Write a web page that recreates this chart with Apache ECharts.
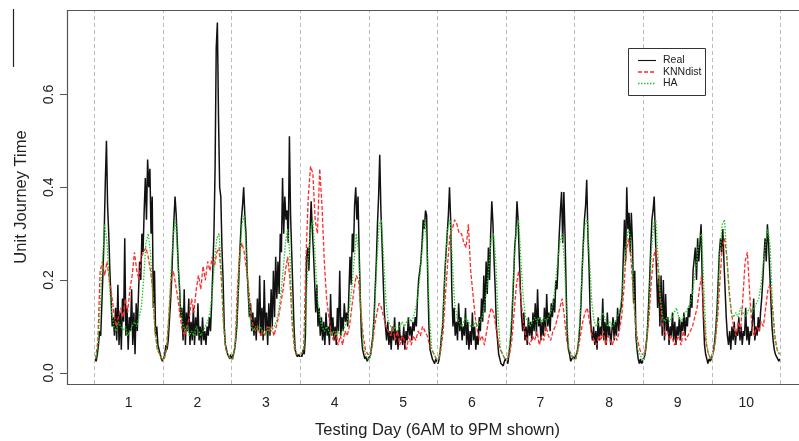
<!DOCTYPE html>
<html>
<head>
<meta charset="utf-8">
<script src="https://cdn.jsdelivr.net/npm/echarts@6/dist/echarts.min.js"></script>
<style>
html,body{margin:0;padding:0;background:#fff;}
#chart{width:799px;height:441px;}
</style>
</head>
<body>
<div id="chart"></div>
<script>
// ---- data ----
const dayLabels = ['1','2','3','4','5','6','7','8','9','10'];
const yTicks = [0, 0.2, 0.4, 0.6];
const dayBoundaries = [0.5,1.5,2.5,3.5,4.5,5.5,6.5,7.5,8.5,9.5,10.5];
const legendNames = ['Real', 'KNNdist', 'HA'];
const realPerDay = 60;   // 15-minute readings, 6AM-9PM
const modelPerDay = 30;  // 30-minute readings, 6AM-9PM

const real = [
 // day 1
 0.03,0.025,0.04,0.06, 0.09,0.08,0.15,0.22, 0.30,0.41,0.50,0.36, 0.30,0.22,0.16,0.10, 0.12,0.08,0.14,0.07, 0.19,0.06,0.13,0.05, 0.16,0.11,0.29,0.08, 0.14,0.05,0.12,0.09, 0.18,0.06,0.13,0.04, 0.15,0.09,0.17,0.24, 0.20,0.30,0.26,0.35, 0.42,0.33,0.46,0.40, 0.44,0.30,0.38,0.14, 0.22,0.08,0.10,0.06, 0.05,0.04,0.03,0.025,
 // day 2
 0.03,0.04,0.06,0.05, 0.07,0.11,0.15,0.20, 0.27,0.33,0.38,0.34, 0.28,0.22,0.18,0.12, 0.14,0.07,0.18,0.06, 0.13,0.09,0.16,0.06, 0.11,0.07,0.14,0.06, 0.12,0.08,0.15,0.07, 0.10,0.06,0.12,0.07, 0.09,0.06,0.10,0.08, 0.12,0.09,0.15,0.22, 0.30,0.44,0.70,0.755, 0.55,0.40,0.38,0.27, 0.20,0.10,0.06,0.05, 0.04,0.035,0.03,0.04,
 // day 3
 0.03,0.04,0.05,0.07, 0.10,0.16,0.22,0.28, 0.33,0.36,0.40,0.34, 0.30,0.22,0.17,0.12, 0.15,0.09,0.13,0.08, 0.12,0.07,0.16,0.09, 0.21,0.08,0.14,0.07, 0.20,0.09,0.13,0.06, 0.15,0.08,0.18,0.10, 0.22,0.12,0.25,0.16, 0.24,0.17,0.30,0.26, 0.42,0.30,0.38,0.33, 0.35,0.28,0.51,0.34, 0.26,0.18,0.10,0.05, 0.04,0.035,0.04,0.035,
 // day 4
 0.04,0.035,0.05,0.04, 0.08,0.25,0.27,0.22, 0.30,0.37,0.31,0.26, 0.20,0.13,0.19,0.10, 0.14,0.08,0.12,0.07, 0.11,0.06,0.13,0.08, 0.10,0.06,0.17,0.08, 0.12,0.07,0.10,0.06, 0.14,0.09,0.22,0.08, 0.12,0.09,0.15,0.11, 0.13,0.10,0.17,0.25, 0.19,0.30,0.26,0.36, 0.40,0.33,0.38,0.26, 0.16,0.08,0.05,0.04, 0.03,0.035,0.025,0.03,
 // day 5
 0.03,0.04,0.06,0.08, 0.12,0.18,0.24,0.32, 0.38,0.47,0.35,0.28, 0.20,0.13,0.10,0.07, 0.11,0.06,0.09,0.05, 0.10,0.07,0.12,0.06, 0.09,0.05,0.11,0.07, 0.08,0.06,0.10,0.05, 0.09,0.07,0.12,0.08, 0.10,0.07,0.11,0.09, 0.12,0.10,0.16,0.20, 0.20,0.24,0.28,0.33, 0.31,0.35,0.34,0.20, 0.10,0.05,0.04,0.03, 0.025,0.02,0.03,0.025,
 // day 6
 0.02,0.03,0.05,0.08, 0.10,0.16,0.22,0.26, 0.30,0.34,0.40,0.33, 0.18,0.10,0.14,0.08, 0.11,0.07,0.15,0.09, 0.12,0.07,0.10,0.08, 0.14,0.06,0.11,0.05, 0.09,0.06,0.13,0.07, 0.10,0.05,0.08,0.06, 0.12,0.09,0.16,0.11, 0.21,0.13,0.24,0.17, 0.27,0.20,0.30,0.37, 0.32,0.24,0.18,0.10, 0.07,0.04,0.03,0.02, 0.02,0.015,0.025,0.03,
 // day 7
 0.03,0.02,0.04,0.06, 0.09,0.14,0.20,0.27, 0.30,0.37,0.33,0.25, 0.18,0.12,0.09,0.13, 0.07,0.10,0.06,0.12, 0.08,0.11,0.07,0.13, 0.09,0.15,0.08,0.18, 0.10,0.12,0.07,0.11, 0.08,0.14,0.09,0.17, 0.10,0.13,0.09,0.15, 0.12,0.16,0.13,0.20, 0.18,0.24,0.30,0.35, 0.39,0.28,0.39,0.30, 0.18,0.08,0.05,0.04, 0.025,0.03,0.035,0.03,
 // day 8
 0.03,0.04,0.05,0.07, 0.10,0.15,0.22,0.28, 0.33,0.36,0.416,0.30, 0.23,0.13,0.09,0.07, 0.10,0.06,0.09,0.05, 0.12,0.07,0.10,0.08, 0.16,0.07,0.11,0.06, 0.13,0.08,0.10,0.06, 0.09,0.12,0.07,0.11, 0.08,0.14,0.09,0.13, 0.14,0.17,0.25,0.33, 0.24,0.40,0.31,0.345, 0.26,0.345,0.28,0.15, 0.22,0.08,0.05,0.03, 0.02,0.03,0.02,0.025,
 // day 9
 0.03,0.04,0.06,0.09, 0.14,0.20,0.27,0.33, 0.35,0.38,0.30,0.22, 0.14,0.21,0.10,0.21, 0.08,0.20,0.07,0.17, 0.09,0.12,0.06,0.10, 0.08,0.13,0.07,0.11, 0.06,0.10,0.08,0.12, 0.07,0.11,0.09,0.13, 0.08,0.12,0.10,0.14, 0.12,0.17,0.14,0.22, 0.22,0.27,0.20,0.29, 0.24,0.28,0.32,0.20, 0.12,0.06,0.04,0.03, 0.02,0.03,0.025,0.03,
 // day 10
 0.04,0.05,0.07,0.10, 0.14,0.20,0.26,0.29, 0.26,0.31,0.24,0.18, 0.12,0.08,0.06,0.09, 0.05,0.10,0.07,0.11, 0.06,0.09,0.08,0.12, 0.07,0.10,0.06,0.09, 0.08,0.14,0.07,0.10, 0.06,0.09,0.08,0.11, 0.16,0.07,0.10,0.08, 0.12,0.09,0.13,0.16, 0.20,0.25,0.29,0.24, 0.32,0.28,0.22,0.16, 0.10,0.07,0.05,0.04, 0.035,0.03,0.025,0.03
];

const knnDist = [
 // day 1
 0.03,0.07,0.22,0.24,0.21,0.24,0.20,0.17,0.13,0.10, 0.12,0.14,0.12,0.16,0.13,0.18,0.21,0.26,0.22,0.20, 0.25,0.26,0.27,0.25,0.22,0.18,0.09,0.05,0.04,0.03,
 // day 2
 0.03,0.05,0.12,0.20,0.22,0.19,0.16,0.12,0.09,0.08, 0.10,0.12,0.16,0.13,0.18,0.21,0.18,0.23,0.20,0.24, 0.22,0.25,0.23,0.26,0.27,0.20,0.10,0.05,0.04,0.03,
 // day 3
 0.03,0.06,0.18,0.26,0.28,0.26,0.22,0.18,0.12,0.10, 0.09,0.10,0.08,0.09,0.08,0.10,0.09,0.10,0.08,0.10, 0.12,0.15,0.18,0.22,0.25,0.20,0.10,0.05,0.04,0.04,
 // day 4
 0.04,0.05,0.25,0.38,0.445,0.43,0.33,0.30,0.44,0.36, 0.24,0.16,0.12,0.09,0.07,0.09,0.06,0.08,0.06,0.09, 0.08,0.10,0.14,0.18,0.21,0.20,0.13,0.08,0.05,0.04,
 // day 5
 0.04,0.06,0.10,0.13,0.15,0.14,0.12,0.10,0.09,0.08, 0.10,0.07,0.09,0.06,0.08,0.07,0.05,0.08,0.06,0.08, 0.07,0.09,0.08,0.10,0.09,0.08,0.06,0.05,0.04,0.03,
 // day 6
 0.03,0.05,0.09,0.17,0.24,0.30,0.31,0.33,0.32,0.30, 0.30,0.28,0.27,0.32,0.22,0.17,0.12,0.09,0.07,0.08, 0.06,0.09,0.12,0.14,0.13,0.10,0.07,0.05,0.04,0.03,
 // day 7
 0.03,0.04,0.07,0.13,0.19,0.22,0.16,0.11,0.08,0.07, 0.06,0.08,0.07,0.09,0.06,0.08,0.07,0.10,0.08,0.07, 0.09,0.10,0.12,0.14,0.16,0.12,0.07,0.05,0.04,0.03,
 // day 8
 0.03,0.05,0.08,0.11,0.13,0.14,0.11,0.08,0.07,0.06, 0.08,0.07,0.09,0.06,0.08,0.07,0.06,0.08,0.07,0.09, 0.12,0.18,0.26,0.29,0.25,0.18,0.11,0.07,0.05,0.04,
 // day 9
 0.04,0.07,0.12,0.20,0.25,0.27,0.22,0.15,0.10,0.08, 0.09,0.07,0.08,0.06,0.07,0.08,0.06,0.09,0.07,0.08, 0.09,0.10,0.12,0.14,0.18,0.21,0.12,0.06,0.04,0.03,
 // day 10
 0.04,0.07,0.12,0.20,0.27,0.29,0.25,0.18,0.13,0.10, 0.08,0.11,0.09,0.16,0.24,0.26,0.17,0.10,0.08,0.10, 0.09,0.11,0.10,0.14,0.18,0.19,0.14,0.08,0.05,0.04
];

const ha = [
 // day 1
 0.03,0.06,0.14,0.24,0.32,0.28,0.19,0.13,0.10,0.09, 0.11,0.10,0.09,0.10,0.08,0.09,0.10,0.11,0.10,0.12, 0.14,0.20,0.28,0.30,0.26,0.16,0.09,0.05,0.04,0.03,
 // day 2
 0.03,0.05,0.12,0.22,0.30,0.33,0.24,0.15,0.11,0.09, 0.10,0.08,0.09,0.08,0.10,0.09,0.08,0.09,0.10,0.11, 0.13,0.17,0.24,0.29,0.30,0.22,0.10,0.05,0.04,0.03,
 // day 3
 0.03,0.06,0.13,0.24,0.32,0.34,0.25,0.15,0.10,0.09, 0.10,0.09,0.10,0.09,0.08,0.09,0.10,0.09,0.10,0.11, 0.13,0.17,0.22,0.28,0.31,0.25,0.12,0.06,0.04,0.04,
 // day 4
 0.04,0.05,0.14,0.25,0.31,0.33,0.25,0.16,0.12,0.10, 0.09,0.10,0.09,0.08,0.09,0.08,0.09,0.08,0.09,0.10, 0.11,0.14,0.18,0.24,0.30,0.26,0.14,0.06,0.04,0.03,
 // day 5
 0.03,0.06,0.13,0.24,0.32,0.33,0.24,0.15,0.11,0.10, 0.09,0.10,0.09,0.10,0.11,0.10,0.11,0.12,0.11,0.12, 0.14,0.17,0.22,0.28,0.33,0.26,0.12,0.05,0.04,0.03,
 // day 6
 0.03,0.06,0.13,0.24,0.31,0.33,0.24,0.15,0.12,0.11, 0.10,0.11,0.12,0.11,0.10,0.10,0.11,0.10,0.11,0.12, 0.14,0.18,0.23,0.29,0.30,0.24,0.12,0.05,0.04,0.03,
 // day 7
 0.03,0.06,0.13,0.24,0.31,0.33,0.24,0.16,0.12,0.11, 0.10,0.11,0.12,0.11,0.12,0.11,0.12,0.11,0.12,0.13, 0.15,0.19,0.24,0.28,0.30,0.24,0.12,0.05,0.04,0.03,
 // day 8
 0.03,0.06,0.14,0.25,0.32,0.33,0.24,0.15,0.11,0.10, 0.11,0.12,0.13,0.11,0.10,0.11,0.10,0.11,0.12,0.13, 0.16,0.22,0.28,0.31,0.29,0.20,0.10,0.05,0.04,0.03,
 // day 9
 0.03,0.07,0.15,0.26,0.32,0.33,0.24,0.16,0.12,0.11, 0.12,0.11,0.12,0.13,0.14,0.12,0.11,0.12,0.13,0.14, 0.15,0.17,0.21,0.25,0.29,0.30,0.18,0.07,0.04,0.03,
 // day 10
 0.04,0.07,0.15,0.26,0.32,0.33,0.25,0.17,0.13,0.12, 0.13,0.12,0.14,0.13,0.12,0.13,0.14,0.13,0.14,0.15, 0.16,0.19,0.24,0.28,0.31,0.27,0.14,0.07,0.05,0.04
];

// ---- build ----
function toPoints(values, perDay) {
  return values.map(function (v, i) {
    const d = Math.floor(i / perDay);
    const j = i % perDay;
    return [d + 0.5 + (j + 0.5) / perDay, v];
  });
}

const seriesColors = ['#111111', '#ff2a2a', '#1ec81e'];
const seriesDash = ['solid', [4, 2], [1.5, 1.5]];
const seriesWidth = [1.5, 1.3, 1.3];

const chart = echarts.init(document.getElementById('chart'), null, {renderer: 'canvas'});

const font = 'Liberation Sans, Arial, sans-serif';

// plot frame (left, top, bottom edges; the right edge lies past the picture)
const frameLeft = 67, frameTop = 10, frameWidth = 741, frameBottom = 57;
const frameH = 441 - frameTop - frameBottom;

const legendGraphic = [];
legendGraphic.push({
  type: 'polyline', silent: true, z: 50,
  shape: {points: [[799.5, frameTop + 0.5], [frameLeft + 0.5, frameTop + 0.5], [frameLeft + 0.5, frameTop + frameH + 0.5], [799.5, frameTop + frameH + 0.5]]},
  style: {stroke: '#555', lineWidth: 1.2, fill: null}
});
// legend drawn with graphic elements
const lgLeft = 628, lgTop = 48, lgW = 77, lgH = 47;
legendGraphic.push({
  type: 'rect', left: lgLeft, top: lgTop, silent: true, z: 100,
  shape: {width: lgW, height: lgH},
  style: {fill: '#fff', stroke: '#333', lineWidth: 1}
});
legendNames.forEach(function (name, k) {
  const yy = lgTop + 12.5 + k * 11.5;
  legendGraphic.push({
    type: 'line', silent: true, z: 101,
    shape: {x1: lgLeft + 10, y1: yy, x2: lgLeft + 28, y2: yy},
    style: {stroke: seriesColors[k], lineWidth: k === 0 ? 1.1 : 1.3, lineDash: seriesDash[k] === 'solid' ? null : seriesDash[k]}
  });
  legendGraphic.push({
    type: 'text', silent: true, z: 101,
    x: lgLeft + 35, y: yy,
    style: {text: name, fill: '#222', font: '10.5px ' + font, textVerticalAlign: 'middle', verticalAlign: 'middle'}
  });
});
// stray vertical stroke at the far left of the original figure
legendGraphic.push({
  type: 'line', silent: true, z: 100,
  shape: {x1: 13.5, y1: 9, x2: 13.5, y2: 67},
  style: {stroke: '#222', lineWidth: 1.2}
});

const option = {
  animation: false,
  backgroundColor: '#fff',
  grid: {
    left: frameLeft, top: frameTop, width: frameWidth, bottom: frameBottom,
    outerBoundsMode: 'none', containLabel: false,
    show: false
  },
  xAxis: {
    type: 'value', min: 0.1, max: 10.9,
    name: 'Testing Day (6AM to 9PM shown)',
    nameLocation: 'middle', nameGap: 38,
    nameTextStyle: {fontFamily: font, fontSize: 16.5, color: '#222'},
    axisLine: {show: false},
    axisTick: {show: false},
    splitLine: {show: false},
    axisLabel: {
      customValues: dayLabels.map(function (d) { return Number(d); }),
      formatter: function (v) { return String(Math.round(v)); },
      fontFamily: font, fontSize: 14, color: '#222', margin: 12
    }
  },
  yAxis: {
    type: 'value', min: -0.024, max: 0.782,
    name: 'Unit Journey Time',
    nameLocation: 'middle', nameGap: 37, nameRotate: 90,
    nameTextStyle: {fontFamily: font, fontSize: 16.5, color: '#222'},
    axisLine: {show: false},
    axisTick: {show: true, customValues: yTicks, length: 7, lineStyle: {color: '#555'}},
    splitLine: {show: false},
    axisLabel: {
      customValues: yTicks, rotate: 90,
      formatter: function (v) { return v.toFixed(1); },
      fontFamily: font, fontSize: 14, color: '#222', margin: 11
    }
  },
  graphic: legendGraphic,
  series: [
    {
      name: legendNames[0], type: 'line', data: toPoints(real, realPerDay),
      showSymbol: false, symbol: 'none', silent: true,
      lineStyle: {color: seriesColors[0], width: seriesWidth[0], type: seriesDash[0]},
      markLine: {
        silent: true, symbol: ['none', 'none'],
        label: {show: false},
        lineStyle: {color: '#bbbbbb', type: [4, 3], width: 1},
        data: dayBoundaries.map(function (b) { return {xAxis: b}; })
      },
      z: 2
    },
    {
      name: legendNames[1], type: 'line', data: toPoints(knnDist, modelPerDay),
      showSymbol: false, symbol: 'none', silent: true,
      lineStyle: {color: seriesColors[1], width: seriesWidth[1], type: seriesDash[1]},
      z: 3
    },
    {
      name: legendNames[2], type: 'line', data: toPoints(ha, modelPerDay),
      showSymbol: false, symbol: 'none', silent: true,
      lineStyle: {color: seriesColors[2], width: seriesWidth[2], type: seriesDash[2]},
      z: 4
    }
  ]
};
chart.setOption(option);
</script>
</body>
</html>
